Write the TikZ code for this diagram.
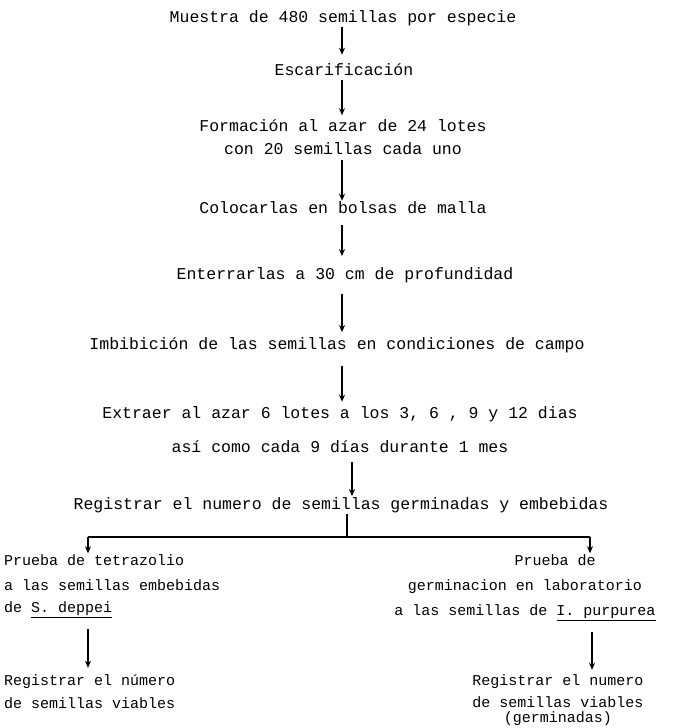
\documentclass[tikz,border=0pt]{standalone}
\usepackage{fontspec}
\setmonofont{Liberation Mono}
\usetikzlibrary{arrows.meta}
\begin{document}
\begin{tikzpicture}[x=1pt,y=-1pt,
  txt/.style={font=\ttfamily\fontsize{16.5}{23}\selectfont, inner sep=1pt, align=center},
  stxt/.style={font=\ttfamily\fontsize{15}{23}\selectfont, inner sep=1pt, align=center},
  ltxt/.style={stxt, anchor=west, align=left},
  arr/.style={line width=1.3pt, -{Stealth[length=7pt,width=6pt]}},
  ln/.style={line width=1.3pt}]
\useasboundingbox (0,0) rectangle (675,728);
% main column
\node[txt] (n1) at (343,18) {Muestra de 480 semillas por especie};
\node[txt] (n2) at (344,70) {Escarificación};
\node[txt] (n3) at (343,137) {Formación al azar de 24 lotes\\con 20 semillas cada uno};
\node[txt] (n4) at (343,208) {Colocarlas en bolsas de malla};
\node[txt] (n5) at (345,275) {Enterrarlas a 30 cm de profundidad};
\node[txt] (n6) at (337,345) {Imbibición de las semillas en condiciones de campo};
\node[txt] (n7) at (340,430) {Extraer al azar 6 lotes a los 3, 6 , 9 y 12 dias\\[11pt]así como cada 9 días durante 1 mes};
\node[txt] (n8) at (341,505) {Registrar el numero de semillas germinadas y embebidas};
% left column
\node[ltxt] (l1) at (3,560) {Prueba de tetrazolio};
\node[ltxt] (l2) at (3,585) {a las semillas embebidas};
\node[ltxt] (l3) at (3,610) {de \underline{S. deppei}};
\node[ltxt] (l4) at (3,682) {Registrar el número};
\node[ltxt] (l5) at (3,703) {de semillas viables};
% right column
\node[stxt] (r1) at (555,560) {Prueba de};
\node[stxt] (r2) at (525,587) {germinacion en laboratorio};
\node[stxt] (r3) at (525,613) {a las semillas de \underline{I. purpurea}};
\node[stxt] (r4) at (558,682) {Registrar el numero};
\node[stxt] (r5) at (558,702) {de semillas viables};
\node[stxt] (r6) at (558,719) {(germinadas)};
% connectors
\coordinate (cx) at (342,0);
\draw[arr, shorten >=8pt] (n1.south -| cx) -- (n2.north -| cx);
\draw[arr, shorten <=3pt, shorten >=3pt] (n2.south -| cx) -- (n3.north -| cx);
\draw[arr, shorten <=4pt] (n3.south -| cx) -- (n4.north -| cx);
\draw[arr, shorten <=10pt, shorten >=10pt] (n4.south -| cx) -- (n5.north -| cx);
\draw[arr, shorten <=10pt, shorten >=4pt] (n5.south -| cx) -- (n6.north -| cx);
\draw[arr, shorten <=12pt, shorten >=4pt] (n6.south -| cx) -- (n7.north -| cx);
\coordinate (cx2) at (352,0);
\draw[arr, shorten <=8pt] (n7.south -| cx2) -- (n8.north -| cx2);
\coordinate (bm) at (347,537);
\coordinate (bl) at (88,537);
\coordinate (bq) at (590,537);
\draw[ln] (n8.south -| bm) -- (bm);
\draw[ln] (bl) -- (bq);
\draw[arr] (bl) -- (l1.north -| bl);
\draw[arr] (bq) -- (r1.north -| bq);
\draw[arr, shorten <=10pt, shorten >=6pt] (l3.south -| bl) -- (l4.north -| bl);
\coordinate (rx) at (592,0);
\draw[arr, shorten <=10pt, shorten >=4pt] (r3.south -| rx) -- (r4.north -| rx);
\end{tikzpicture}
\end{document}
